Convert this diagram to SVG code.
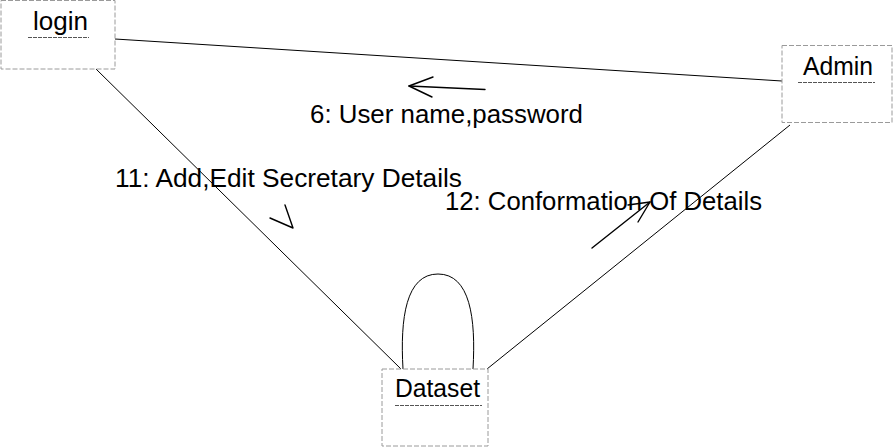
<svg xmlns="http://www.w3.org/2000/svg" width="893" height="447" viewBox="0 0 893 447">
  <style>
    .box { fill: #ffffff; stroke: #9a9a9a; stroke-width: 1; stroke-dasharray: 5 2; }
    .ul { stroke: #555555; stroke-width: 1; stroke-dasharray: 4 1; }
    .lbl { font-family: "Liberation Sans", Arial, sans-serif; font-size: 25px; fill: #000000; }
    .edge { fill: none; stroke: #000000; stroke-width: 1; }
    .arr { fill: none; stroke: #000000; stroke-width: 1.4; stroke-linecap: round; stroke-linejoin: round; }
  </style>
  <rect x="0" y="0" width="893" height="447" fill="#ffffff"/>

  <g id="connectors">
    <line class="edge" x1="115" y1="39" x2="782" y2="81"/>
    <line class="edge" x1="96" y1="69" x2="401" y2="369"/>
    <line class="edge" x1="790" y1="125" x2="487" y2="369"/>
    <path class="edge" d="M403,369 C400,318 406,274 438,274 C470,274 476,318 473,369"/>
    <!-- 6: arrow -->
    <line class="arr" x1="485" y1="89.5" x2="409" y2="86"/>
    <polyline class="arr" points="433,77 409,86 432,97"/>
    <!-- 11: arrowhead -->
    <polyline class="arr" points="270,218 293,228 285,205"/>
    <!-- 12: arrow -->
    <line class="arr" x1="592" y1="248" x2="650" y2="202"/>
    <polyline class="arr" points="628,205 650,202 638,222"/>
    <text class="lbl" x="310" y="123" textLength="273" lengthAdjust="spacingAndGlyphs">6: User name,password</text>
    <text class="lbl" x="115" y="187" textLength="347" lengthAdjust="spacingAndGlyphs">11: Add,Edit Secretary Details</text>
    <text class="lbl" x="445" y="210" textLength="317" lengthAdjust="spacingAndGlyphs">12: Conformation Of Details</text>
  </g>

  <g id="login">
    <rect class="box" x="1" y="0.5" width="114" height="68.5"/>
    <text class="lbl" x="33" y="30" textLength="55" lengthAdjust="spacingAndGlyphs">login</text>
    <line class="ul" x1="28" y1="37.5" x2="89" y2="37.5"/>
  </g>

  <g id="admin">
    <rect class="box" x="782" y="45.5" width="110" height="77"/>
    <text class="lbl" x="803" y="75" textLength="70" lengthAdjust="spacingAndGlyphs">Admin</text>
    <line class="ul" x1="798" y1="82.5" x2="875" y2="82.5"/>
  </g>

  <g id="dataset">
    <rect class="box" x="382" y="369" width="106" height="77"/>
    <text class="lbl" x="395" y="397" textLength="85" lengthAdjust="spacingAndGlyphs">Dataset</text>
    <line class="ul" x1="395" y1="405.5" x2="482" y2="405.5"/>
  </g>
</svg>
